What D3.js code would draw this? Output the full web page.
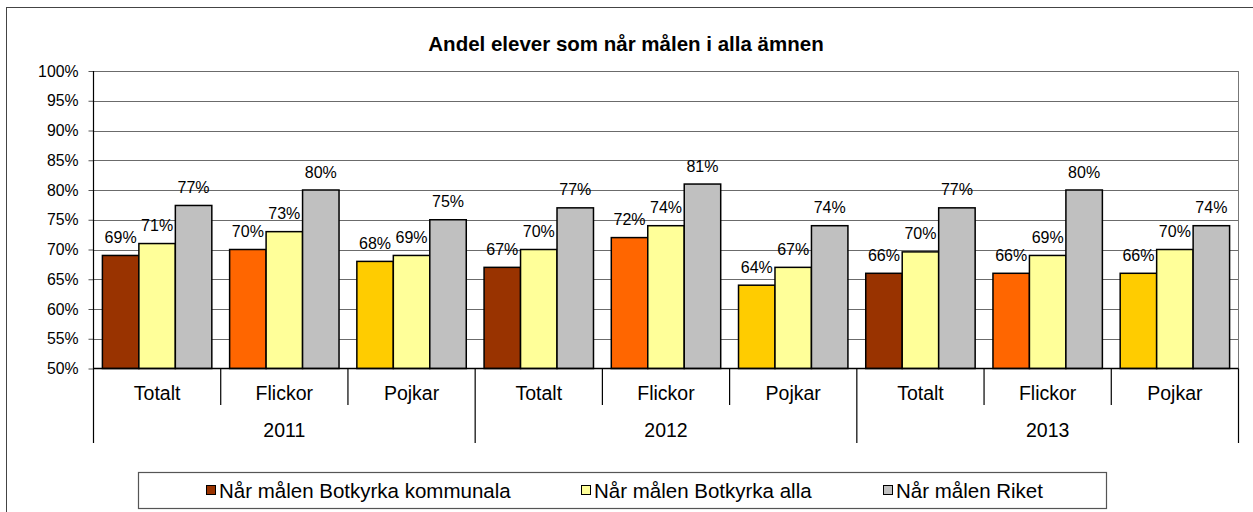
<!DOCTYPE html>
<meta charset="utf-8">
<html>
<head><title>Andel elever som når målen</title>
<script src="https://d3js.org/d3.v7.min.js"></script>
<style>
    body { margin: 0; background: #fff; }
    text { font-family: "Liberation Sans", Arial, sans-serif; fill: #000; }
    .grid line { stroke: #6b6b6b; stroke-width: 1; }
    .bar { stroke: #000; stroke-width: 1.5; }
</style>
</head>
<body>
<script>
var W = 1253, H = 512;

// data
var years = ["2011", "2012", "2013"];
var groups = ["Totalt", "Flickor", "Pojkar"];
var seriesNames = ["Når målen Botkyrka kommunala", "Når målen Botkyrka alla", "Når målen Riket"];
var kommunala = [69, 70, 68, 67, 72, 64, 66, 66, 66];
var alla = [71, 73, 69, 70, 74, 67, 69.6, 69, 70];
var riket = [77.4, 80, 75, 77, 81, 74, 77, 80, 74];
var yTicks = [50, 55, 60, 65, 70, 75, 80, 85, 90, 95, 100];

// colours: first series changes with group
var groupColors = {"Totalt": "#993300", "Flickor": "#FF6600", "Pojkar": "#FFCC00"};
var seriesColors = ["#993300", "#FFFF99", "#C0C0C0"];

var plotL = 93.5, plotR = 1238.5, plotT = 71, plotB = 368.5;

var svg = d3.select("body").append("svg")
    .attr("width", W).attr("height", H);

// outer chart border (runs off right/bottom)
svg.append("rect")
    .attr("x", 6.5).attr("y", 7.5)
    .attr("width", W + 20).attr("height", H + 20)
    .attr("fill", "none").attr("stroke", "#444").attr("stroke-width", 1);

svg.append("text")
    .attr("x", 626).attr("y", 51)
    .attr("text-anchor", "middle")
    .style("font-size", "20.5px").style("font-weight", "bold")
    .text("Andel elever som når målen i alla ämnen");

// build categories
var cats = [];
years.forEach(function(yr) {
    groups.forEach(function(g) { cats.push({year: yr, group: g}); });
});
cats.forEach(function(c, i) {
    c.values = [kommunala[i], alla[i], riket[i]];
});

var x0 = d3.scaleBand().domain(d3.range(cats.length))
    .range([plotL, plotR]).paddingInner(0.14).paddingOuter(0.07);
var x1 = d3.scaleBand().domain([0, 1, 2]).range([0, x0.bandwidth()]);
var y = d3.scaleLinear().domain([50, 100]).range([plotB, plotT]);
var step = x0.step();

// gridlines
svg.append("g").attr("class", "grid")
    .selectAll("line").data(yTicks.slice(1)).enter().append("line")
    .attr("x1", plotL).attr("x2", plotR)
    .attr("y1", function(d) { return Math.round(y(d)) + 0.5; })
    .attr("y2", function(d) { return Math.round(y(d)) + 0.5; });
// right plot border
svg.append("line")
    .attr("x1", plotR).attr("x2", plotR).attr("y1", plotT).attr("y2", plotB)
    .attr("stroke", "#777");

// y axis
var yAxis = svg.append("g")
    .attr("transform", "translate(" + plotL + ",0)")
    .call(d3.axisLeft(y).tickValues(yTicks).tickFormat(function(d) { return d + "%"; })
        .tickSize(5).tickPadding(10));
yAxis.select(".domain").remove();
yAxis.selectAll("text").style("font-size", "15.8px").attr("font-family", null);
yAxis.selectAll("line").attr("stroke", "#555");

// bars
var cg = svg.selectAll(".cat").data(cats).enter().append("g")
    .attr("transform", function(d, i) { return "translate(" + x0(i) + ",0)"; });

cg.selectAll("rect").data(function(d) {
        return d.values.map(function(v, k) {
            return {v: v, k: k, color: k === 0 ? groupColors[d.group] : seriesColors[k]};
        });
    })
    .enter().append("rect")
    .attr("class", "bar")
    .attr("x", function(d) { return x1(d.k); })
    .attr("width", x1.bandwidth())
    .attr("y", function(d) { return y(d.v); })
    .attr("height", function(d) { return plotB - y(d.v); })
    .attr("fill", function(d) { return d.color; });

cg.selectAll(".lbl").data(function(d) { return d.values.map(function(v, k) { return {v: v, k: k}; }); })
    .enter().append("text")
    .attr("x", function(d) { return x1(d.k) + x1.bandwidth() / 2; })
    .attr("y", function(d) { return y(d.v) - 12.5; })
    .attr("text-anchor", "middle")
    .style("font-size", "16px")
    .text(function(d) { return Math.round(d.v) + "%"; });

// axes lines
svg.append("line").attr("x1", plotL).attr("x2", plotR).attr("y1", plotB).attr("y2", plotB)
    .attr("stroke", "#000").attr("stroke-width", 1.5);
svg.append("line").attr("x1", plotL).attr("x2", plotL).attr("y1", plotT).attr("y2", 443)
    .attr("stroke", "#000").attr("stroke-width", 1.2);

// category separators and labels
d3.range(1, cats.length + 1).forEach(function(i) {
    var xx = plotL + i * step;
    var yearEdge = (i % groups.length === 0);
    svg.append("line").attr("x1", xx).attr("x2", xx)
        .attr("y1", plotB).attr("y2", yearEdge ? 443 : 405)
        .attr("stroke", "#000").attr("stroke-width", 1.2);
});
svg.selectAll(".catlbl").data(cats).enter().append("text")
    .attr("x", function(d, i) { return x0(i) + x0.bandwidth() / 2; })
    .attr("y", 399.5)
    .attr("text-anchor", "middle")
    .style("font-size", "19.5px")
    .text(function(d) { return d.group; });
svg.selectAll(".yrlbl").data(years).enter().append("text")
    .attr("x", function(d, i) { return plotL + (i * 3 + 1.5) * step; })
    .attr("y", 437)
    .attr("text-anchor", "middle")
    .style("font-size", "19.5px")
    .text(function(d) { return d; });

// legend
var lg = svg.append("g");
lg.append("rect").attr("x", 138.5).attr("y", 472.5).attr("width", 968).attr("height", 36)
    .attr("fill", "#fff").attr("stroke", "#555").attr("stroke-width", 1.2);
var legX = [206, 581, 883];
seriesNames.forEach(function(s, k) {
    lg.append("rect").attr("x", legX[k] + 0.5).attr("y", 485.5).attr("width", 9).attr("height", 9)
        .attr("fill", seriesColors[k]).attr("stroke", "#000").attr("stroke-width", 1);
    lg.append("text").attr("x", legX[k] + 13).attr("y", 497.5)
        .style("font-size", "20.5px").text(s);
});
</script>
</body>
</html>
